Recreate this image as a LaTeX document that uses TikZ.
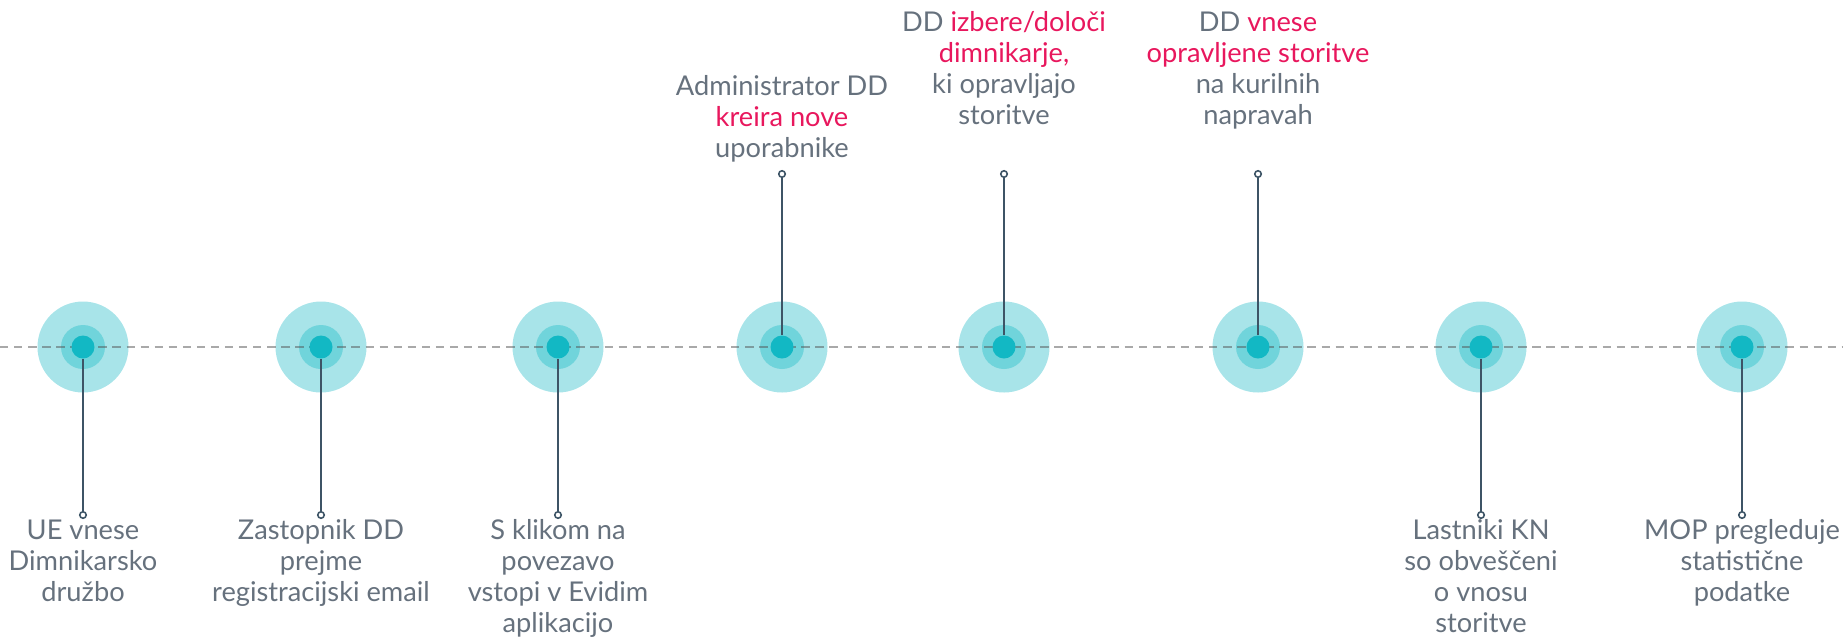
\documentclass[tikz,border=0pt]{standalone}
\usepackage{fontspec}
\setmainfont{Lato}
\usetikzlibrary{calc}

\definecolor{halo}{HTML}{A8E4E9}
\definecolor{ring}{HTML}{70D4DB}
\definecolor{dot}{HTML}{12B8C4}
\definecolor{stem}{HTML}{3D5466}
\definecolor{txt}{HTML}{66717D}
\definecolor{hot}{HTML}{E8175D}
\newcommand{\hl}[1]{\textcolor{hot}{#1}}

\begin{document}
\begin{tikzpicture}[
  dotnode/.style={circle, fill=dot, minimum size=0.23cm, inner sep=0pt},
  endnode/.style={circle, draw=stem, fill=white, line width=0.45pt, minimum size=0.065cm, inner sep=0pt},
  stemline/.style={stem, line width=0.65pt},
  dashline/.style={black!67, opacity=0.5, line width=0.6pt, dash pattern=on 2.4pt off 1.6pt},
  steptext/.style={text=txt, align=center, inner sep=0pt, anchor=north, font=\fontsize{7.75}{8.8}\selectfont}
]

\useasboundingbox (0,0) rectangle (18.43,6.37);

% halos
\foreach \i/\x/\e in {1/0.83/1.22, 2/3.21/1.22, 3/5.58/1.22, 4/7.82/4.63,
                      5/10.04/4.63, 6/12.58/4.63, 7/14.81/1.22, 8/17.42/1.22} {
  \fill[halo] (\x,2.90) circle (0.455);
  \fill[ring] (\x,2.90) circle (0.22);
}

\draw[dashline] (0,2.90) -- (18.43,2.90);

% texts
\node[steptext] (t1) at (0.83,1.18) {UE vnese\\Dimnikarsko\\družbo};
\node[steptext] (t2) at (3.21,1.18) {Zastopnik DD\\prejme\\registracijski email};
\node[steptext] (t3) at (5.58,1.18) {S klikom na\\povezavo\\vstopi v Evidim\\aplikacijo};
\node[steptext] (t4) at (7.82,5.62) {Administrator DD\\\hl{kreira nove}\\uporabnike};
\node[steptext] (t5) at (10.04,6.26) {DD \hl{izbere/določi}\\\hl{dimnikarje,}\\ki opravljajo\\storitve};
\node[steptext] (t6) at (12.58,6.26) {DD \hl{vnese}\\\hl{opravljene storitve}\\na kurilnih\\napravah};
\node[steptext] (t7) at (14.81,1.18) {Lastniki KN\\so obveščeni\\o vnosu\\storitve};
\node[steptext] (t8) at (17.42,1.18) {MOP pregleduje\\statistične\\podatke};

% dots and stems
\foreach \i/\x/\e in {1/0.83/1.22, 2/3.21/1.22, 3/5.58/1.22, 4/7.82/4.63,
                      5/10.04/4.63, 6/12.58/4.63, 7/14.81/1.22, 8/17.42/1.22} {
  \node[dotnode] (d\i) at (\x,2.90) {};
  \node[endnode] (e\i) at (\x,\e) {};
  \draw[stemline] (d\i) -- (e\i);
}

\end{tikzpicture}
\end{document}
